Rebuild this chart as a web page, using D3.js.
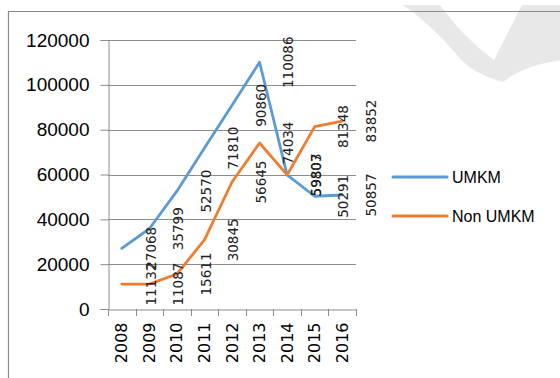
<!DOCTYPE html>
<html><head><meta charset="utf-8">
<script src="https://cdn.jsdelivr.net/npm/d3@7"></script>
<style>body{margin:0;background:#fff}svg{display:block}</style>
</head><body>
<script>
const years = ["2008","2009","2010","2011","2012","2013","2014","2015","2016"];
const umkm = [27068, 35799, 52570, 71810, 90860, 110086, 59807, 50291, 50857];
const nonUmkm = [11132, 11087, 15611, 30845, 56645, 74034, 59803, 81348, 83852];
const seriesNames = ["UMKM", "Non UMKM"];
const colors = ["#5B9BD5", "#ED7D31"];
const yTicks = [0, 20000, 40000, 60000, 80000, 100000, 120000];

const W = 560, H = 378;
const svg = d3.select("body").append("svg").attr("width", W).attr("height", H);

// watermark
svg.append("path")
  .attr("d", "M403,5 L440,5 Q462,36 494,60 L522,5 L562,5 L562,60 Q522,66 503,82 Q472,74 457,55 Q433,26 403,5 Z")
  .attr("fill", "#e8e8e8");

// border
svg.append("path").attr("d", "M8.5,378 L8.5,11.5 L560,11.5")
  .attr("fill", "none").attr("stroke", "#8a8a8a").attr("stroke-width", 1.2);

const x = d3.scaleBand().domain(years).range([108, 356]);
const y = d3.scaleLinear().domain([0, 120000]).range([309, 40]);
const cx = d => x(d) + x.bandwidth() / 2;

// gridlines
svg.append("g").selectAll("line").data(yTicks.slice(1)).join("line")
  .attr("x1", 108).attr("x2", 356)
  .attr("y1", d => Math.round(y(d)) + 0.5).attr("y2", d => Math.round(y(d)) + 0.5)
  .attr("stroke", "#8c8c8c").attr("stroke-width", 1);

// y axis
const yAxis = svg.append("g").attr("transform", "translate(108.5,0)")
  .call(d3.axisLeft(y).tickValues(yTicks).tickSize(8).tickPadding(11).tickFormat(d3.format("d")));
yAxis.selectAll("path,line").attr("stroke", "#8c8c8c");
yAxis.selectAll("text").attr("font-family", "Liberation Sans, Arial").attr("font-size", 19).attr("fill", "#000");

// x axis
const xAxis = svg.append("g").attr("transform", "translate(0,309.5)")
  .call(d3.axisBottom(x).tickSize(0).tickPadding(0));
xAxis.select("path").attr("stroke", "#8c8c8c");
xAxis.selectAll(".tick line").remove();
const bounds = years.map(d => x(d)).concat([x(years[years.length - 1]) + x.bandwidth()]);
svg.append("g").selectAll("line").data(bounds).join("line")
  .attr("x1", d => Math.round(d) + 0.5).attr("x2", d => Math.round(d) + 0.5)
  .attr("y1", 309).attr("y2", 316).attr("stroke", "#8c8c8c");
xAxis.selectAll(".tick text")
  .attr("font-family", "DejaVu Sans").attr("font-size", 16).attr("fill", "#000")
  .attr("text-anchor", "end").attr("dy", "0.35em")
  .attr("transform", "translate(0,13) rotate(-90)");

// lines
const data = [umkm, nonUmkm];
const line = d3.line().x((d, i) => cx(years[i])).y(d => y(d));
data.forEach((s, k) => {
  svg.append("path").datum(s).attr("d", line)
    .attr("fill", "none").attr("stroke", colors[k]).attr("stroke-width", 2.8)
    .attr("stroke-linejoin", "round").attr("stroke-linecap", "round");
});

// data labels
data.forEach((s, k) => {
  svg.append("g").selectAll("text").data(s).join("text")
    .attr("transform", (d, i) => `translate(${cx(years[i]) + 29},${y(d)}) rotate(-90)`)
    .attr("text-anchor", "middle").attr("dy", "0.35em")
    .attr("font-family", "DejaVu Sans").attr("font-size", 13.5).attr("fill", "#222")
    .text(d => d);
});

// legend
const lg = svg.append("g");
seriesNames.forEach((n, k) => {
  const ly = 177 + k * 39;
  lg.append("line").attr("x1", 393).attr("x2", 447).attr("y1", ly).attr("y2", ly)
    .attr("stroke", colors[k]).attr("stroke-width", 3).attr("stroke-linecap", "round");
  lg.append("text").attr("x", 452).attr("y", ly).attr("dy", "0.35em")
    .attr("font-family", "Liberation Sans, Arial").attr("font-size", 16).attr("fill", "#000")
    .text(n);
});
</script>
</body></html>
